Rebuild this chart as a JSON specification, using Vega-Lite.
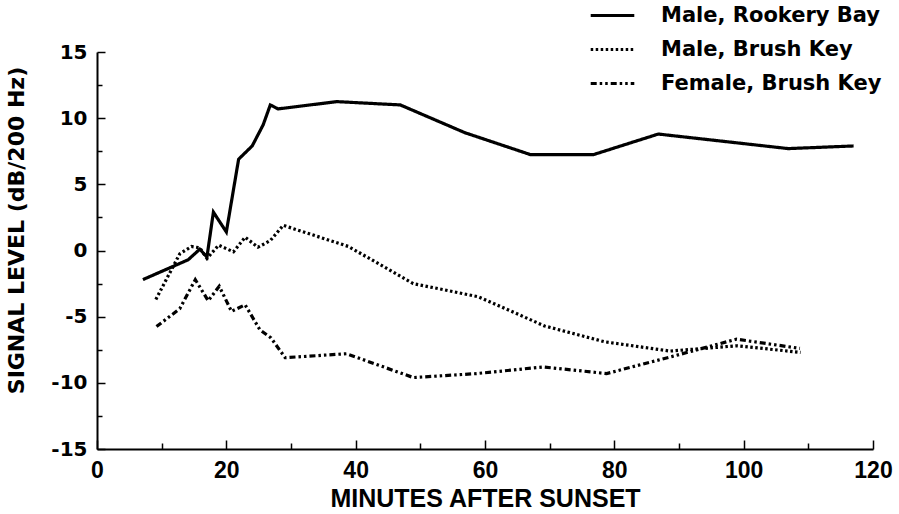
{
  "$schema": "https://vega.github.io/schema/vega-lite/v6.json",
  "width": 776,
  "height": 397,
  "autosize": {"type": "none"},
  "padding": {"left": 97, "top": 52, "right": 26, "bottom": 65},
  "background": "white",
  "config": {
    "view": {"stroke": null},
    "axis": {"domainColor": "black", "tickColor": "black", "labelColor": "black", "titleColor": "black", "grid": false, "domainWidth": 2, "tickWidth": 1.5}
  },
  "data": {
    "values": [
      {"series": "Male, Rookery Bay", "minutes": 7.1, "level": -2.2},
      {"series": "Male, Rookery Bay", "minutes": 14.1, "level": -0.7},
      {"series": "Male, Rookery Bay", "minutes": 15.9, "level": 0.1},
      {"series": "Male, Rookery Bay", "minutes": 17.0, "level": -0.5},
      {"series": "Male, Rookery Bay", "minutes": 18.0, "level": 2.9},
      {"series": "Male, Rookery Bay", "minutes": 20.0, "level": 1.4},
      {"series": "Male, Rookery Bay", "minutes": 21.9, "level": 6.9},
      {"series": "Male, Rookery Bay", "minutes": 24.0, "level": 7.9},
      {"series": "Male, Rookery Bay", "minutes": 25.7, "level": 9.5},
      {"series": "Male, Rookery Bay", "minutes": 26.8, "level": 11.0},
      {"series": "Male, Rookery Bay", "minutes": 28.0, "level": 10.7},
      {"series": "Male, Rookery Bay", "minutes": 37.1, "level": 11.25},
      {"series": "Male, Rookery Bay", "minutes": 46.9, "level": 11.0},
      {"series": "Male, Rookery Bay", "minutes": 56.9, "level": 8.9},
      {"series": "Male, Rookery Bay", "minutes": 67.0, "level": 7.25},
      {"series": "Male, Rookery Bay", "minutes": 76.8, "level": 7.25},
      {"series": "Male, Rookery Bay", "minutes": 86.8, "level": 8.8},
      {"series": "Male, Rookery Bay", "minutes": 106.9, "level": 7.7},
      {"series": "Male, Rookery Bay", "minutes": 117.0, "level": 7.9},
      {"series": "Male, Brush Key", "minutes": 9.1, "level": -3.7},
      {"series": "Male, Brush Key", "minutes": 12.8, "level": -0.25},
      {"series": "Male, Brush Key", "minutes": 14.6, "level": 0.3},
      {"series": "Male, Brush Key", "minutes": 15.9, "level": 0.2},
      {"series": "Male, Brush Key", "minutes": 17.0, "level": -0.6},
      {"series": "Male, Brush Key", "minutes": 18.8, "level": 0.4},
      {"series": "Male, Brush Key", "minutes": 21.1, "level": -0.1},
      {"series": "Male, Brush Key", "minutes": 22.9, "level": 1.0},
      {"series": "Male, Brush Key", "minutes": 24.9, "level": 0.25},
      {"series": "Male, Brush Key", "minutes": 26.8, "level": 0.75},
      {"series": "Male, Brush Key", "minutes": 28.8, "level": 1.9},
      {"series": "Male, Brush Key", "minutes": 38.9, "level": 0.3},
      {"series": "Male, Brush Key", "minutes": 48.9, "level": -2.5},
      {"series": "Male, Brush Key", "minutes": 59.0, "level": -3.5},
      {"series": "Male, Brush Key", "minutes": 69.2, "level": -5.7},
      {"series": "Male, Brush Key", "minutes": 78.5, "level": -6.9},
      {"series": "Male, Brush Key", "minutes": 88.6, "level": -7.6},
      {"series": "Male, Brush Key", "minutes": 99.0, "level": -7.2},
      {"series": "Male, Brush Key", "minutes": 108.8, "level": -7.7},
      {"series": "Female, Brush Key", "minutes": 9.2, "level": -5.75},
      {"series": "Female, Brush Key", "minutes": 12.8, "level": -4.4},
      {"series": "Female, Brush Key", "minutes": 15.2, "level": -2.2},
      {"series": "Female, Brush Key", "minutes": 17.2, "level": -3.8},
      {"series": "Female, Brush Key", "minutes": 18.9, "level": -2.7},
      {"series": "Female, Brush Key", "minutes": 20.8, "level": -4.6},
      {"series": "Female, Brush Key", "minutes": 22.9, "level": -4.1},
      {"series": "Female, Brush Key", "minutes": 25.2, "level": -6.0},
      {"series": "Female, Brush Key", "minutes": 26.9, "level": -6.6},
      {"series": "Female, Brush Key", "minutes": 29.1, "level": -8.1},
      {"series": "Female, Brush Key", "minutes": 38.6, "level": -7.8},
      {"series": "Female, Brush Key", "minutes": 48.9, "level": -9.6},
      {"series": "Female, Brush Key", "minutes": 58.7, "level": -9.3},
      {"series": "Female, Brush Key", "minutes": 69.0, "level": -8.8},
      {"series": "Female, Brush Key", "minutes": 78.8, "level": -9.3},
      {"series": "Female, Brush Key", "minutes": 89.0, "level": -8.0},
      {"series": "Female, Brush Key", "minutes": 98.9, "level": -6.7},
      {"series": "Female, Brush Key", "minutes": 108.7, "level": -7.4}
    ]
  },
  "mark": {"type": "line", "color": "black", "strokeWidth": 3.2},
  "encoding": {
    "x": {
      "field": "minutes", "type": "quantitative",
      "scale": {"domain": [0, 120], "nice": false, "zero": false},
      "axis": {
        "title": "MINUTES AFTER SUNSET",
        "values": [0, 10, 20, 30, 40, 50, 60, 70, 80, 90, 100, 110, 120],
        "labelExpr": "datum.value % 20 === 0 ? toString(datum.value) : ''",
        "tickSize": {"condition": {"test": "datum.value % 20 === 0", "value": -9}, "value": -6},
        "labelPadding": 19,
        "labelFont": "Liberation Sans",
        "labelFontSize": 23,
        "labelFontWeight": "bold",
        "labelFlush": false,
        "titleFont": "Liberation Sans",
        "titleFontSize": 25,
        "titleFontWeight": "bold",
        "titlePadding": 4
      }
    },
    "y": {
      "field": "level", "type": "quantitative",
      "scale": {"domain": [-15, 15], "nice": false, "zero": false},
      "axis": {
        "title": "SIGNAL LEVEL (dB/200 Hz)",
        "values": [-15, -12.5, -10, -7.5, -5, -2.5, 0, 2.5, 5, 7.5, 10, 12.5, 15],
        "labelExpr": "datum.value % 5 === 0 ? toString(datum.value) : ''",
        "tickSize": {"condition": {"test": "datum.value % 5 === 0", "value": -8}, "value": -5},
        "labelPadding": 18,
        "labelFont": "DejaVu Sans",
        "labelFontSize": 20,
        "labelFontWeight": "bold",
        "labelFlush": false,
        "titleFont": "DejaVu Sans",
        "titleFontSize": 22,
        "titleFontWeight": "bold",
        "titleAngle": -90,
        "titleAlign": "center",
        "titleBaseline": "alphabetic",
        "titleX": -74,
        "titleY": 178
      }
    },
    "strokeDash": {
      "field": "series", "type": "nominal",
      "scale": {
        "domain": ["Male, Rookery Bay", "Male, Brush Key", "Female, Brush Key"],
        "range": [[1, 0], [2.5, 2.5], [6, 3, 2.5, 3, 2.5, 3]]
      },
      "legend": {
        "title": null,
        "orient": "none",
        "legendX": 492,
        "legendY": -60,
        "padding": 0,
        "symbolType": "stroke",
        "symbolSize": 1900,
        "symbolStrokeWidth": 3,
        "symbolStrokeColor": "black",
        "labelFont": "DejaVu Sans",
        "labelFontSize": 21,
        "labelFontWeight": "bold",
        "labelColor": "black",
        "labelOffset": 25,
        "rowPadding": 0,
        "labelLimit": 400
      }
    }
  }
}
